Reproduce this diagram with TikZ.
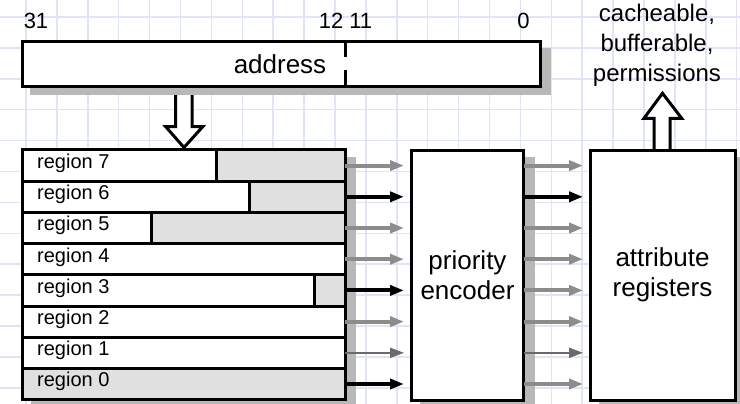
\documentclass[tikz,border=0pt]{standalone}
\usepackage{fontspec}
\setmainfont{Liberation Sans}
\usetikzlibrary{arrows.meta}
\definecolor{gridc}{HTML}{DFE5F7}
\definecolor{shadowc}{HTML}{B8B8B8}
\definecolor{shadec}{HTML}{E0E0E0}
\definecolor{arrg}{HTML}{8C8C8C}
\definecolor{arrd}{HTML}{6A6A6A}
\begin{document}
\begin{tikzpicture}[x=1pt,y=-1pt,
  box/.style={draw=black,line width=3pt,inner sep=0pt,outer sep=0pt,anchor=north west},
  rowbox/.style={box,minimum width=322.5pt,minimum height=31.2pt},
  rlabel/.style={font=\fontsize{20}{24}\selectfont,anchor=base west,inner sep=0pt},
  bigtext/.style={font=\fontsize{26}{30}\selectfont,align=center,inner sep=0pt},
  toptext/.style={font=\fontsize{24}{30}\selectfont,anchor=base,inner sep=0pt},
  numtext/.style={font=\fontsize{22}{22}\selectfont,anchor=base,inner sep=0pt},
  sigoff/.style={line width=4pt,arrg,-{Triangle[length=14pt,width=10pt]}},
  sigon/.style={sigoff,black},
  sigthin/.style={sigoff,arrd,line width=2pt},
  hollow/.style={draw=black,fill=white,line width=3pt,line join=miter},
  shadowfill/.style={fill=shadowc},
  shadefill/.style={fill=shadec}
]
\useasboundingbox (0,0) rectangle (740,404);
% background grid
\foreach \i in {0,...,23} \draw[gridc,line width=1.5pt] (26+\i*30.9,0) -- (26+\i*30.9,404);
\foreach \j in {0,...,12} \draw[gridc,line width=1.5pt] (0,17+\j*30.9) -- (740,17+\j*30.9);

% hollow arrow down (address -> regions)
\draw[hollow] (175.5,86.5) -- (175.5,126.7) -- (165.7,126.7) -- (184,147.5) -- (202.7,126.7) -- (192,126.7) -- (192,86.5);

% address register
\fill[shadowfill] (30,48) rectangle (551,95);
\node[box,fill=white,minimum width=517.5pt,minimum height=45pt] (addr) at (22.5,41.5) {};
\draw[line width=3pt] (345.5,41.5) -- (345.5,57);
\draw[line width=3pt] (345.5,70) -- (345.5,86.5);
\node[font=\fontsize{26}{30}\selectfont,anchor=base,inner sep=0pt] (addrtext) at (280,74) {address};
\node[numtext] (b31) at (36,29) {31};
\node[numtext] (b1211) at (345.5,29) {12 11};
\node[numtext] (b0) at (523.5,29) {0};

% region registers
\fill[shadowfill] (30.5,157) rectangle (356,404);
\fill[white] (22.5,150) rectangle (345,399.6);
\fill[shadefill] (216,150) rectangle (345,181.2);
\fill[shadefill] (249,181.2) rectangle (345,212.4);
\fill[shadefill] (151.5,212.4) rectangle (345,243.6);
\fill[shadefill] (314.5,274.8) rectangle (345,306);
\fill[shadefill] (22.5,368.4) rectangle (345,399.6);
\node[rowbox] (r7) at (22.5,150) {};
\node[rowbox] (r6) at (22.5,181.2) {};
\node[rowbox] (r5) at (22.5,212.4) {};
\node[rowbox] (r4) at (22.5,243.6) {};
\node[rowbox] (r3) at (22.5,274.8) {};
\node[rowbox] (r2) at (22.5,306) {};
\node[rowbox] (r1) at (22.5,337.2) {};
\node[rowbox] (r0) at (22.5,368.4) {};
\draw[line width=3pt] (216,150) -- (216,181.2);
\draw[line width=3pt] (249,181.2) -- (249,212.4);
\draw[line width=3pt] (151.5,212.4) -- (151.5,243.6);
\draw[line width=3pt] (314.5,274.8) -- (314.5,306);
\foreach \n/\t in {7/150,6/181.2,5/212.4,4/243.6,3/274.8,2/306,1/337.2,0/368.4}
  \node[rlabel] (l\n) at (37,\t+18.5) {region \n};

% priority encoder
\fill[shadowfill] (420,157) rectangle (535,404);
\node[box,fill=white,minimum width=112pt,minimum height=249.5pt] (enc) at (411.5,150.5) {};
\node[bigtext] (enctext) at (enc.center) {priority\\encoder};

% attribute registers
\draw[hollow] (654,150.5) -- (654,118.3) -- (644,118.3) -- (662.5,93.3) -- (681.7,118.3) -- (670,118.3) -- (670,150.5);
\fill[shadowfill] (599,157) rectangle (740,404);
\node[box,fill=white,minimum width=145pt,minimum height=249.5pt] (attr) at (590,150.5) {};
\node[bigtext] (attrtext) at (attr.center) {attribute\\registers};
\node[toptext] (t1) at (657,22) {cacheable,};
\node[toptext] (t2) at (657,52) {bufferable,};
\node[toptext] (t3) at (657,82) {permissions};

% match lines region -> encoder
\foreach \n/\s in {7/sigoff,6/sigon,5/sigoff,4/sigoff,3/sigon,2/sigoff,1/sigthin,0/sigon}
  \draw[\s,shorten >=7.5pt] (r\n.east) -- (r\n.east -| enc.west);
% encoder -> attribute registers
\foreach \n/\s in {7/sigoff,6/sigon,5/sigoff,4/sigoff,3/sigoff,2/sigoff,1/sigthin,0/sigoff}
  \draw[\s,shorten >=7pt] (r\n.east -| enc.east) -- (r\n.east -| attr.west);
\end{tikzpicture}
\end{document}
